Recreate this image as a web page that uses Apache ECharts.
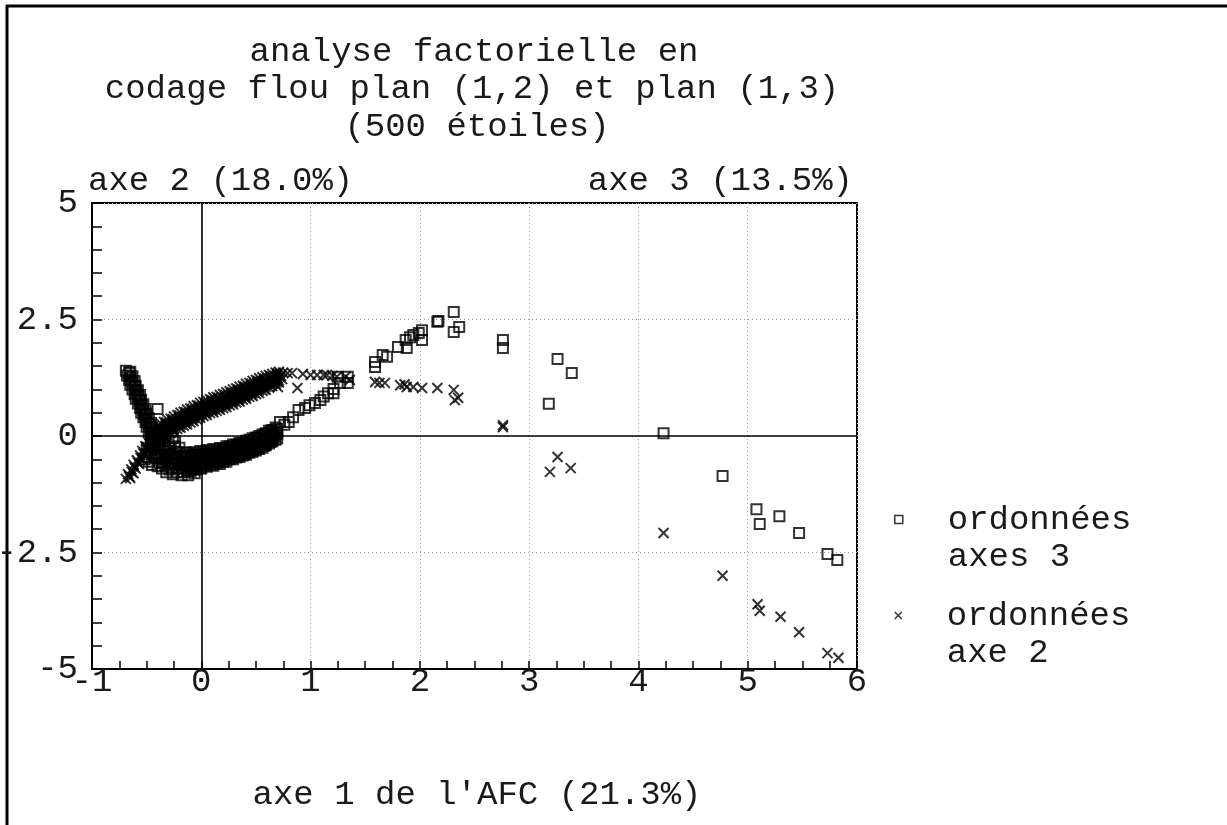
<!DOCTYPE html>
<html>
<head>
<meta charset="utf-8">
<script src="https://cdn.jsdelivr.net/npm/echarts@6/dist/echarts.min.js"></script>
<style>html,body{margin:0;padding:0;background:#fff;}#c{width:1227px;height:825px;}</style>
</head>
<body>
<div id="c"></div>
<script>
// ---- data ----
const titleLines = ['analyse factorielle en', 'codage flou plan (1,2) et plan (1,3)', '(500 étoiles)'];
const yAxisTitle2 = 'axe 2 (18.0%)';
const yAxisTitle3 = 'axe 3 (13.5%)';
const xAxisTitle = "axe 1 de l'AFC (21.3%)";
const seriesNames = ['ordonnées axes 3', 'ordonnées axe 2'];
const legendLabels = ['\nordonnées\naxes 3', '\nordonnées\naxe 2'];

// axe 3 ordinates (squares): steep stroke at the far left
const squaresStroke = [
 [-0.69,1.40],[-0.65,1.38],[-0.68,1.30],[-0.63,1.28],[-0.66,1.20],[-0.61,1.18],
 [-0.65,1.10],[-0.60,1.08],[-0.63,1.00],[-0.58,0.98],[-0.61,0.90],[-0.56,0.88],
 [-0.60,0.80],[-0.55,0.78],[-0.58,0.70],[-0.53,0.68],[-0.56,0.60],[-0.51,0.58],
 [-0.55,0.50],[-0.50,0.48],[-0.53,0.40],[-0.48,0.38],[-0.51,0.30],[-0.46,0.28],
 [-0.50,0.20],[-0.45,0.18],[-0.48,0.10],[-0.43,0.08],[-0.46,0.00],[-0.42,-0.02],
 [-0.66,1.35],[-0.645,1.25],[-0.63,1.15],[-0.61,1.05],[-0.595,0.95],[-0.58,0.85],
 [-0.56,0.75],[-0.545,0.65],[-0.53,0.55],[-0.515,0.45],[-0.50,0.35],[-0.48,0.25],
 [-0.465,0.15],[-0.45,0.05]
];
// axe 3 ordinates (squares): dense knot below the crossing
const squaresKnot = [
 [-0.42,-0.10],[-0.38,-0.12],[-0.40,-0.20],[-0.35,-0.22],[-0.38,-0.30],[-0.33,-0.32],
 [-0.36,-0.40],[-0.30,-0.42],[-0.33,-0.50],[-0.27,-0.50],[-0.30,-0.60],[-0.24,-0.60],
 [-0.27,-0.68],[-0.21,-0.70],[-0.22,-0.78],[-0.16,-0.78],[-0.10,-0.76],[-0.44,-0.22],
 [-0.46,-0.30],[-0.42,-0.38],[-0.28,-0.25],[-0.22,-0.35],[-0.17,-0.45],
 [-0.44,-0.05],[-0.40,-0.05],[-0.36,-0.06],[-0.33,-0.18],[-0.30,-0.32],[-0.26,-0.38],
 [-0.25,-0.58],[-0.19,-0.62],[-0.20,-0.52],[-0.24,-0.46],[-0.31,-0.52],[-0.35,-0.56],
 [-0.29,-0.72],[-0.18,-0.84],[-0.12,-0.84],[-0.06,-0.80],[-0.37,-0.47],[-0.40,-0.28],
 [-0.48,-0.38],[-0.50,-0.45],[0.00,-0.70],[-0.06,-0.72],
 [-0.52,-0.50],[-0.48,-0.55],[-0.45,-0.62],[-0.40,-0.65],[-0.36,-0.70],[-0.32,-0.78],
 [-0.26,-0.82],[-0.50,-0.25],[-0.46,-0.15],[-0.42,-0.48],[-0.38,-0.58],[-0.33,-0.64],
 [-0.28,-0.40],[-0.24,-0.22],[-0.30,-0.12],[-0.26,-0.05],[-0.24,-0.12],[-0.20,-0.25],
 [-0.14,-0.35]
];
// axe 3 ordinates (squares): lower band
const squaresBand = [
 [-0.16,-0.70],[-0.17,-0.61],[-0.15,-0.51],[-0.16,-0.42],
 [-0.10,-0.69],[-0.11,-0.60],[-0.09,-0.50],[-0.10,-0.41],
 [-0.04,-0.66],[-0.05,-0.57],[-0.03,-0.47],[-0.04,-0.38],
 [0.02,-0.63],[0.01,-0.54],[0.03,-0.44],[0.02,-0.35],
 [0.08,-0.61],[0.07,-0.52],[0.09,-0.42],[0.08,-0.33],
 [0.14,-0.59],[0.13,-0.50],[0.15,-0.40],[0.14,-0.31],
 [0.20,-0.55],[0.19,-0.46],[0.21,-0.36],[0.20,-0.27],
 [0.26,-0.50],[0.25,-0.41],[0.27,-0.31],[0.26,-0.22],
 [0.32,-0.46],[0.31,-0.37],[0.33,-0.27],[0.32,-0.18],
 [0.38,-0.42],[0.37,-0.33],[0.39,-0.23],[0.38,-0.14],
 [0.44,-0.36],[0.43,-0.27],[0.45,-0.17],[0.44,-0.08],
 [0.50,-0.31],[0.49,-0.22],[0.51,-0.12],[0.50,-0.03],
 [0.56,-0.25],[0.55,-0.16],[0.57,-0.06],[0.56,0.03],
 [0.62,-0.16],[0.61,-0.08],[0.63,0.02],[0.62,0.11],
 [0.68,-0.08],[0.67,0.00],[0.69,0.09],[0.68,0.18],
 [-0.13,-0.66],[-0.12,-0.56],[-0.14,-0.46],
 [-0.07,-0.64],[-0.06,-0.54],[-0.08,-0.44],
 [-0.01,-0.61],[0.00,-0.51],[-0.02,-0.41],
 [0.05,-0.58],[0.06,-0.48],[0.04,-0.38],
 [0.11,-0.56],[0.12,-0.46],[0.10,-0.36],
 [0.17,-0.53],[0.18,-0.43],[0.16,-0.33],
 [0.23,-0.49],[0.24,-0.39],[0.22,-0.29],
 [0.29,-0.44],[0.30,-0.34],[0.28,-0.24],
 [0.35,-0.40],[0.36,-0.30],[0.34,-0.20],
 [0.41,-0.35],[0.42,-0.25],[0.40,-0.15],
 [0.47,-0.30],[0.48,-0.20],[0.46,-0.10],
 [0.53,-0.24],[0.54,-0.14],[0.52,-0.04],
 [0.59,-0.17],[0.60,-0.07],[0.58,0.03],
 [0.65,-0.09],[0.66,0.01],[0.64,0.11]
];
const squaresBandExtra = [
 [-0.145,-0.66],[-0.145,-0.56],[-0.145,-0.46],
 [-0.085,-0.65],[-0.085,-0.55],[-0.085,-0.45],
 [-0.025,-0.62],[-0.025,-0.52],[-0.025,-0.42],
 [0.035,-0.59],[0.035,-0.49],[0.035,-0.39],
 [0.095,-0.57],[0.095,-0.47],[0.095,-0.37],
 [0.155,-0.55],[0.155,-0.45],[0.155,-0.35],
 [0.215,-0.51],[0.215,-0.41],[0.215,-0.31],
 [0.275,-0.46],[0.275,-0.36],[0.275,-0.26],
 [0.335,-0.42],[0.335,-0.32],[0.335,-0.22],
 [0.395,-0.38],[0.395,-0.28],[0.395,-0.18],
 [0.455,-0.32],[0.455,-0.22],[0.455,-0.12],
 [0.515,-0.27],[0.515,-0.17],[0.515,-0.07],
 [0.575,-0.21],[0.575,-0.11],[0.575,-0.01],
 [0.635,-0.13],[0.635,-0.03],[0.635,0.07],
 [0.695,-0.05],[0.695,0.05],[0.695,0.15],
 [-0.13,-0.74],[-0.13,-0.37],[-0.07,-0.72],[-0.07,-0.35],[-0.01,-0.69],[-0.01,-0.32],
 [0.05,-0.66],[0.05,-0.30],[0.11,-0.64],[0.11,-0.28],[0.17,-0.60],[0.17,-0.26],
 [0.23,-0.55],[0.23,-0.22],[0.29,-0.50],[0.29,-0.18],[0.35,-0.45],[0.35,-0.15],
 [0.41,-0.40],[0.41,-0.10],[0.47,-0.34],[0.47,-0.05],[0.53,-0.28],[0.53,0.00],
 [0.59,-0.20],[0.59,0.06],[0.65,-0.11],[0.65,0.13]
];
// axe 3 ordinates (squares): isolated stars
const squaresOutliers = [
 [-0.40,0.58],
 [0.72,0.30],[0.80,0.30],[0.76,0.24],[0.84,0.40],[0.89,0.56],[0.95,0.60],[0.99,0.66],
 [1.04,0.71],[1.09,0.77],[1.12,0.85],[1.16,0.92],[1.21,0.92],[1.21,1.01],[1.27,1.14],
 [1.34,1.14],[1.34,1.27],[1.25,1.27],
 [1.59,1.59],[1.59,1.48],[1.66,1.74],[1.70,1.70],[1.80,1.91],[1.88,1.89],[1.87,2.06],
 [1.91,2.12],[1.94,2.17],[1.99,2.21],[2.02,2.27],[2.02,2.06],[2.16,2.45],[2.17,2.47],
 [2.31,2.66],[2.31,2.23],[2.36,2.34],[2.76,2.06],[2.76,1.89],[3.26,1.65],[3.39,1.35],
 [3.18,0.69],[4.23,0.06],[4.77,-0.86],[5.08,-1.57],[5.11,-1.89],[5.29,-1.72],
 [5.47,-2.08],[5.73,-2.53],[5.82,-2.66]
];

// axe 2 ordinates (crosses): steep stroke at the lower left
const crossesStroke = [
 [-0.69,-0.92],[-0.65,-0.90],[-0.67,-0.82],[-0.62,-0.80],[-0.64,-0.72],[-0.60,-0.70],
 [-0.62,-0.62],[-0.57,-0.60],[-0.59,-0.52],[-0.54,-0.50],[-0.56,-0.42],[-0.52,-0.40],
 [-0.54,-0.32],[-0.49,-0.30],[-0.51,-0.22],[-0.46,-0.20],[-0.49,-0.12],[-0.44,-0.10],
 [-0.46,-0.02],[-0.42,0.00],
 [-0.66,-0.87],[-0.635,-0.77],[-0.61,-0.67],[-0.58,-0.57],[-0.555,-0.47],[-0.53,-0.37],
 [-0.50,-0.27],[-0.475,-0.17],[-0.45,-0.07]
];
// axe 2 ordinates (crosses): upper band
const crossesBand = [
 [-0.40,-0.08],[-0.41,0.02],[-0.39,0.12],[-0.40,0.22],
 [-0.34,0.00],[-0.35,0.10],[-0.33,0.20],[-0.34,0.30],
 [-0.28,0.07],[-0.29,0.17],[-0.27,0.27],[-0.28,0.37],
 [-0.22,0.15],[-0.23,0.25],[-0.21,0.35],[-0.22,0.45],
 [-0.16,0.22],[-0.17,0.32],[-0.15,0.42],[-0.16,0.52],
 [-0.10,0.29],[-0.11,0.39],[-0.09,0.49],[-0.10,0.59],
 [-0.04,0.36],[-0.05,0.46],[-0.03,0.56],[-0.04,0.66],
 [0.02,0.43],[0.01,0.53],[0.03,0.63],[0.02,0.73],
 [0.08,0.49],[0.07,0.59],[0.09,0.69],[0.08,0.79],
 [0.14,0.54],[0.13,0.64],[0.15,0.74],[0.14,0.84],
 [0.20,0.60],[0.19,0.70],[0.21,0.80],[0.20,0.90],
 [0.26,0.66],[0.25,0.76],[0.27,0.86],[0.26,0.96],
 [0.32,0.72],[0.31,0.82],[0.33,0.92],[0.32,1.02],
 [0.38,0.78],[0.37,0.88],[0.39,0.98],[0.38,1.08],
 [0.44,0.84],[0.43,0.94],[0.45,1.04],[0.44,1.14],
 [0.50,0.90],[0.49,1.00],[0.51,1.10],[0.50,1.20],
 [0.56,0.97],[0.55,1.07],[0.57,1.16],[0.56,1.26],
 [0.62,1.04],[0.61,1.13],[0.63,1.22],[0.62,1.31],
 [0.68,1.12],[0.67,1.20],[0.69,1.28],[0.68,1.36],
 [0.74,1.22],[0.73,1.29],[0.75,1.36],
 [-0.37,0.01],[-0.36,0.11],[-0.38,0.21],
 [-0.31,0.09],[-0.30,0.19],[-0.32,0.29],
 [-0.25,0.16],[-0.24,0.26],[-0.26,0.36],
 [-0.19,0.24],[-0.18,0.34],[-0.20,0.44],
 [-0.13,0.31],[-0.12,0.41],[-0.14,0.51],
 [-0.07,0.38],[-0.06,0.48],[-0.08,0.58],
 [-0.01,0.45],[0.00,0.55],[-0.02,0.65],
 [0.05,0.51],[0.06,0.61],[0.04,0.71],
 [0.11,0.57],[0.12,0.67],[0.10,0.77],
 [0.17,0.62],[0.18,0.72],[0.16,0.82],
 [0.23,0.68],[0.24,0.78],[0.22,0.88],
 [0.29,0.74],[0.30,0.84],[0.28,0.94],
 [0.35,0.80],[0.36,0.90],[0.34,1.00],
 [0.41,0.86],[0.42,0.96],[0.40,1.06],
 [0.47,0.92],[0.48,1.02],[0.46,1.12],
 [0.53,0.98],[0.54,1.08],[0.52,1.18],
 [0.59,1.05],[0.60,1.14],[0.58,1.23],
 [0.65,1.12],[0.66,1.20],[0.64,1.28],
 [0.71,1.19],[0.72,1.27],[0.70,1.34]
];
const crossesBandExtra = [
 [-0.385,-0.03],[-0.385,0.07],[-0.385,0.17],
 [-0.325,0.05],[-0.325,0.15],[-0.325,0.25],
 [-0.265,0.12],[-0.265,0.22],[-0.265,0.32],
 [-0.205,0.20],[-0.205,0.30],[-0.205,0.40],
 [-0.145,0.27],[-0.145,0.37],[-0.145,0.47],
 [-0.085,0.34],[-0.085,0.44],[-0.085,0.54],
 [-0.025,0.41],[-0.025,0.51],[-0.025,0.61],
 [0.035,0.48],[0.035,0.58],[0.035,0.68],
 [0.095,0.54],[0.095,0.64],[0.095,0.74],
 [0.155,0.59],[0.155,0.69],[0.155,0.79],
 [0.215,0.65],[0.215,0.75],[0.215,0.85],
 [0.275,0.71],[0.275,0.81],[0.275,0.91],
 [0.335,0.77],[0.335,0.87],[0.335,0.97],
 [0.395,0.83],[0.395,0.93],[0.395,1.03],
 [0.455,0.89],[0.455,0.99],[0.455,1.09],
 [0.515,0.95],[0.515,1.05],[0.515,1.15],
 [0.575,1.01],[0.575,1.11],[0.575,1.21],
 [0.635,1.08],[0.635,1.17],[0.635,1.26],
 [0.695,1.16],[0.695,1.24],[0.695,1.32],
 [-0.37,-0.05],[-0.37,0.27],[-0.31,0.03],[-0.31,0.35],[-0.25,0.10],[-0.25,0.42],
 [-0.19,0.18],[-0.19,0.50],[-0.13,0.25],[-0.13,0.57],[-0.07,0.32],[-0.07,0.64],
 [-0.01,0.39],[-0.01,0.71],[0.05,0.45],[0.05,0.77],[0.11,0.51],[0.11,0.83],
 [0.17,0.56],[0.17,0.88],[0.23,0.62],[0.23,0.94],[0.29,0.68],[0.29,1.00],
 [0.35,0.74],[0.35,1.06],[0.41,0.80],[0.41,1.12],[0.47,0.86],[0.47,1.18],
 [0.53,0.92],[0.53,1.24],[0.59,0.99],[0.59,1.29],[0.65,1.07],[0.65,1.33],
 [0.71,1.15],[0.71,1.38]
];
// axe 2 ordinates (crosses): isolated stars
const crossesOutliers = [
 [0.70,1.05],[0.88,1.03],[0.79,1.35],[0.83,1.35],[0.93,1.33],[1.00,1.31],[1.06,1.31],
 [1.12,1.31],[1.15,1.31],[1.20,1.29],[1.24,1.27],[1.32,1.27],[1.36,1.20],
 [1.59,1.16],[1.63,1.14],[1.68,1.14],[1.82,1.09],[1.86,1.11],[1.88,1.05],[1.94,1.05],
 [2.02,1.03],[2.16,1.03],[2.31,0.99],[2.32,0.77],[2.35,0.82],[2.76,0.19],[2.76,0.23],
 [3.19,-0.77],[3.26,-0.45],[3.38,-0.69],[4.23,-2.08],[4.77,-3.00],[5.09,-3.61],
 [5.11,-3.75],[5.30,-3.88],[5.47,-4.21],[5.73,-4.66],[5.83,-4.76]
];

// ---- chart ----
const FONT = "'Liberation Mono', 'DejaVu Sans Mono', monospace";
const INK = '#1a1a1a';
const CROSS = 'path://M0,0L10,10M10,0L0,10';
const chart = echarts.init(document.getElementById('c'), null, {renderer: 'canvas'});

function txt(text, x, y, align) {
  return {type: 'text', x: x, y: y, silent: true,
    style: {text: text, fontSize: 34, fontFamily: FONT, fill: INK,
      align: align, textAlign: align, verticalAlign: 'middle', textVerticalAlign: 'middle'}};
}
function legendFor(i, top, icon, size) {
  return {
    orient: 'vertical', left: 894, top: top, padding: 0,
    itemWidth: size, itemHeight: size, selectedMode: false,
    data: [{name: seriesNames[i], icon: icon,
      itemStyle: {color: 'rgba(0,0,0,0)', borderColor: '#000', borderWidth: 1.5}}],
    formatter: function () { return legendLabels[i]; },
    textStyle: {fontSize: 34, lineHeight: 37, fontFamily: FONT, color: INK, padding: [0, 0, 0, 40]}
  };
}

chart.setOption({
  animation: false,
  backgroundColor: '#fff',
  grid: {left: 92, right: 370, top: 203, bottom: 156, show: true, containLabel: false,
    outerBoundsMode: 'none',
    borderColor: '#000', borderWidth: 2, backgroundColor: 'rgba(0,0,0,0)'},
  xAxis: {
    type: 'value', min: -1, max: 6, interval: 1,
    axisLine: {show: true, onZero: false, lineStyle: {color: '#000', width: 2}},
    axisTick: {show: true, inside: true, length: 8, lineStyle: {color: '#000', width: 1.5}},
    minorTick: {show: true, splitNumber: 4, length: 8, lineStyle: {color: '#000', width: 1.5}},
    axisLabel: {color: INK, fontSize: 34, fontFamily: FONT, margin: -4},
    splitLine: {show: true, lineStyle: {color: '#9a9a9a', width: 1, type: [1, 3]}}
  },
  yAxis: {
    type: 'value', min: -5, max: 5, interval: 2.5,
    axisLine: {show: true, onZero: false, lineStyle: {color: '#000', width: 2}},
    axisTick: {show: true, inside: true, length: 10, lineStyle: {color: '#000', width: 1.5}},
    minorTick: {show: true, splitNumber: 5, length: 10, lineStyle: {color: '#000', width: 1.5}},
    axisLabel: {color: INK, fontSize: 34, fontFamily: FONT, margin: 14},
    splitLine: {show: true, lineStyle: {color: '#9a9a9a', width: 1, type: [1, 3]}}
  },
  legend: [legendFor(0, 464, 'rect', 8), legendFor(1, 560, CROSS, 7)],
  series: [
    {
      name: seriesNames[0], type: 'scatter', symbol: 'rect', symbolSize: 10,
      data: squaresStroke.concat(squaresKnot, squaresBand, squaresBandExtra, squaresOutliers),
      itemStyle: {color: 'rgba(0,0,0,0)', borderColor: '#000', borderWidth: 2},
      emphasis: {disabled: true},
      markLine: {
        silent: true, symbol: ['none', 'none'], label: {show: false},
        lineStyle: {color: '#000', width: 1.6, type: 'solid'},
        data: [{xAxis: 0}, {yAxis: 0}]
      }
    },
    {
      name: seriesNames[1], type: 'scatter', symbol: CROSS, symbolSize: 10,
      data: crossesStroke.concat(crossesBand, crossesBandExtra, crossesOutliers),
      itemStyle: {color: 'rgba(0,0,0,0)', borderColor: '#000', borderWidth: 2},
      emphasis: {disabled: true}
    }
  ],
  graphic: [
    {type: 'line', silent: true, shape: {x1: 7, y1: 5, x2: 7, y2: 825}, style: {stroke: '#000', lineWidth: 3}},
    {type: 'line', silent: true, shape: {x1: 6, y1: 6, x2: 1227, y2: 6}, style: {stroke: '#000', lineWidth: 3}},
    txt(titleLines[0], 474, 52, 'center'),
    txt(titleLines[1], 472, 89, 'center'),
    txt(titleLines[2], 477, 127, 'center'),
    txt(yAxisTitle2, 88, 181, 'left'),
    txt(yAxisTitle3, 853, 181, 'right'),
    txt(xAxisTitle, 477, 795, 'center')
  ]
});
</script>
</body>
</html>
